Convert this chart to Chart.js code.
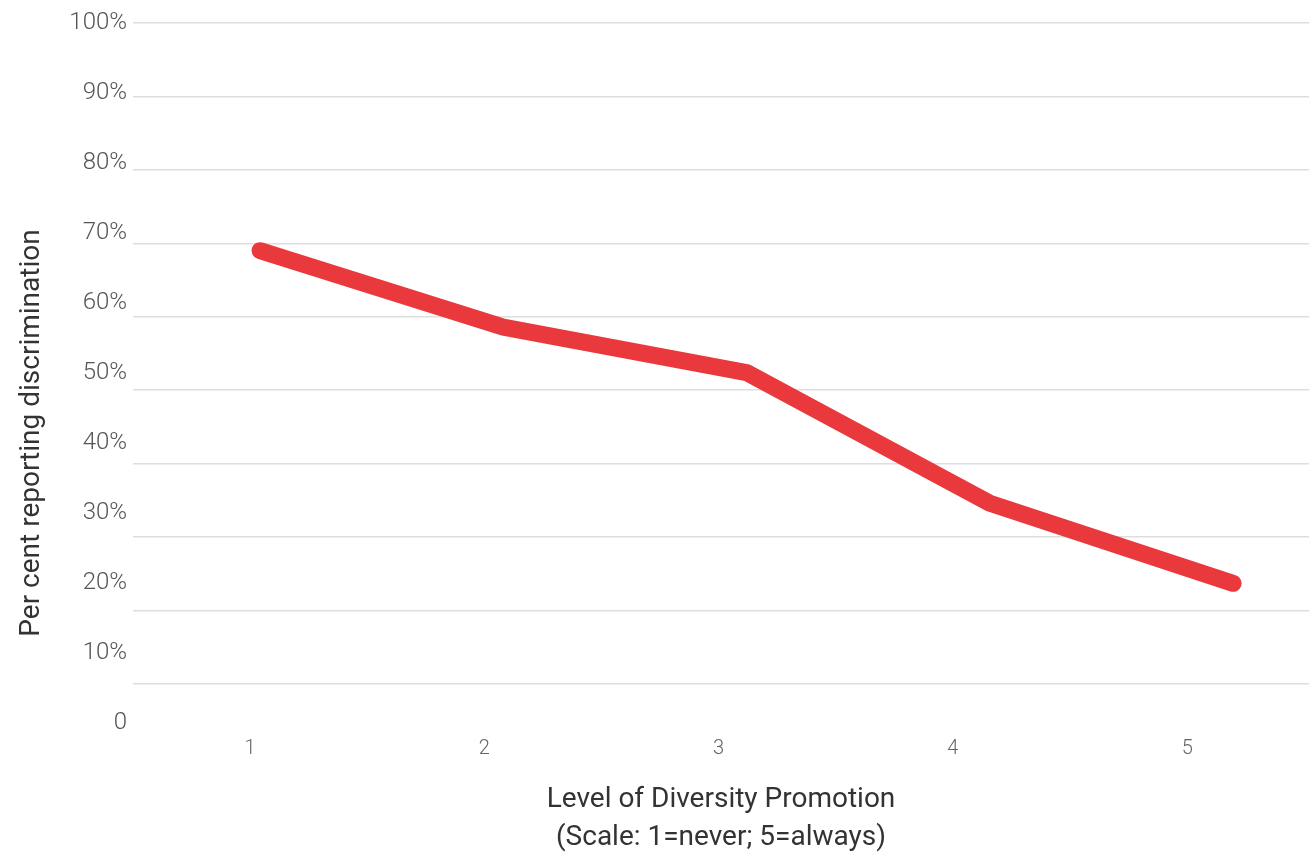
<!DOCTYPE html>
<html>
<head>
<meta charset="utf-8">
<script src="https://cdn.jsdelivr.net/npm/chart.js@4"></script>
<style>
  html, body { margin: 0; padding: 0; background: #fff; }
  .wrap { width: 1309px; height: 858px; position: relative; }
</style>
</head>
<body>
<div class="wrap"><canvas class="grafico"></canvas></div>
<script>
const canvas = document.querySelector('.grafico');

// diversity promotion level (1 = never, 5 = always)
const levels = [1, 2, 3, 4, 5];
// per cent reporting discrimination
const percentReporting = [69, 58.6, 52.4, 34.6, 23.7];

const levelTicks = [1, 2, 3, 4, 5];
const percentTicks = [0, 10, 20, 30, 40, 50, 60, 70, 80, 90, 100];
const gridTicks = [10, 20, 30, 40, 50, 60, 70, 80, 90, 100];

const yTitlePlugin = {
    id: 'yTitle',
    afterDraw(chart) {
        const ctx = chart.ctx;
        ctx.save();
        ctx.translate(32, 433);
        ctx.rotate(-Math.PI / 2);
        ctx.font = '400 28px Roboto';
        ctx.fillStyle = '#333';
        ctx.textAlign = 'center';
        ctx.textBaseline = 'middle';
        ctx.fillText('Per cent reporting discrimination', 0, 0);
        ctx.restore();
    }
};

const config = {
    type: 'line',
    data: {
        datasets: [{
            label: 'Per cent reporting discrimination',
            data: levels.map((lvl, i) => ({ x: lvl, y: percentReporting[i] })),
            xAxisID: 'xd',
            yAxisID: 'y',
            borderColor: '#E9393C',
            borderWidth: 17,
            borderCapStyle: 'round',
            borderJoinStyle: 'round',
            pointRadius: 0,
            tension: 0,
            fill: false
        }]
    },
    options: {
        responsive: true,
        maintainAspectRatio: false,
        animation: false,
        layout: { padding: { top: 23, left: 0, right: 0, bottom: 0 } },
        plugins: {
            legend: { display: false },
            tooltip: { enabled: false }
        },
        scales: {
            x: {
                type: 'linear',
                position: 'bottom',
                min: 0.5,
                max: 5.52,
                afterBuildTicks: (s) => { s.ticks = levelTicks.map(v => ({ value: v })); },
                afterFit: (s) => { s.height = 130; },
                grid: { display: false, drawTicks: false },
                border: { display: false },
                ticks: {
                    padding: 9,
                    color: '#666',
                    font: { family: 'Roboto', size: 20, weight: 300 },
                    callback: (v) => String(v)
                },
                title: {
                    display: true,
                    text: ['Level of Diversity Promotion', '(Scale: 1=never; 5=always)'],
                    color: '#333',
                    font: { family: 'Roboto', size: 28, weight: 400, lineHeight: 38 / 28 },
                    padding: { top: 0, bottom: 1 }
                }
            },
            xd: {
                type: 'linear',
                display: false,
                min: 0.478,
                max: 5.312
            },
            yl: {
                type: 'linear',
                position: 'left',
                min: -0.714,
                max: 100,
                afterBuildTicks: (s) => { s.ticks = percentTicks.map(v => ({ value: v })); },
                afterFit: (s) => { s.width = 133; },
                grid: { display: false, drawTicks: false },
                border: { display: false },
                ticks: {
                    padding: 6,
                    color: '#555',
                    font: { family: 'Roboto', size: 24, weight: 300 },
                    callback: (v) => v === 0 ? '0' : v + '%'
                }
            },
            y: {
                type: 'linear',
                position: 'right',
                min: 4,
                max: 100,
                afterBuildTicks: (s) => { s.ticks = gridTicks.map(v => ({ value: v })); },
                afterFit: (s) => { s.width = 0; },
                grid: { color: '#dedede', lineWidth: 1.5, drawTicks: false },
                border: { display: false },
                ticks: { display: false }
            }
        }
    },
    plugins: [yTitlePlugin]
};

const myChart = new Chart(canvas, config);
</script>
</body>
</html>
